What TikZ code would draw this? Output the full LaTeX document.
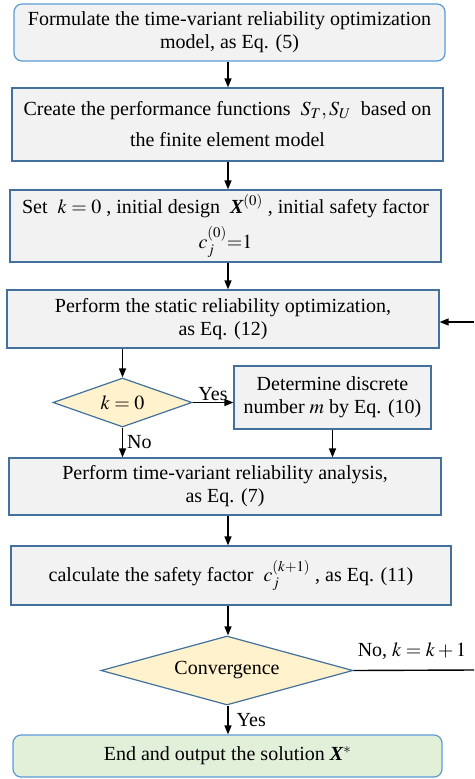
\documentclass[tikz,border=0pt]{standalone}
\usepackage{amsmath}
\IfFileExists{mathptmx.sty}{\usepackage{mathptmx}}{}
\usepackage[no-math]{fontspec}
\setmainfont{Liberation Serif}
\newfontfamily\tnr{Liberation Serif}
\usetikzlibrary{shapes.geometric,arrows.meta}
\definecolor{boxfill}{HTML}{F2F2F2}
\definecolor{boxline}{HTML}{41719C}
\definecolor{softline}{HTML}{5B9BD5}
\definecolor{decfill}{HTML}{FFF2CC}
\definecolor{endfill}{HTML}{E2F0D9}
\newcommand{\bX}{{\tnr\bfseries\itshape X}}
\tikzset{
  x=1pt, y=-1pt,
  every node/.style={font=\tnr\fontsize{20}{23}\selectfont, inner sep=0pt, align=center},
  procbox/.style={draw=boxline, fill=boxfill, line width=1.2pt, rectangle},
  startbox/.style={draw=softline, fill=boxfill, line width=1.2pt, rectangle, rounded corners=8pt},
  endbox/.style={draw=softline, fill=endfill, line width=1.2pt, rectangle, rounded corners=8pt},
  decision/.style={draw=boxline, fill=decfill, line width=1.2pt, diamond, aspect=2.8},
  arr/.style={line width=1.4pt, -{Triangle[length=9pt,width=7pt]}},
  plain/.style={line width=1.4pt},
  lbl/.style={font=\tnr\fontsize{20}{23}\selectfont}
}
\begin{document}
\begin{tikzpicture}
\useasboundingbox (0,0) rectangle (474,779);
\coordinate (ax) at (228,0);

\node[startbox, minimum width=431pt, minimum height=57pt] (b1) at (229.5,32.5)
  {Formulate the time-variant reliability optimization\\model, as Eq. (5)};
\node[procbox, minimum width=431pt, minimum height=73pt] (b2) at (227.5,124.5)
  {Create the performance functions \ $S_T, S_U$ \ based on\\[8pt]the finite element model};
\node[procbox, minimum width=431pt, minimum height=72pt] (b3) at (225.5,226)
  {Set \ $k=0$ , initial design \ \bX$^{(0)}$ , initial safety factor\\[8pt]$c_j^{(0)}{=}1$};
\node[procbox, minimum width=432pt, minimum height=58pt] (b4) at (223,319)
  {Perform the static reliability optimization,\\as Eq. (12)};
\node[decision, minimum width=139pt, minimum height=49pt] (d1) at (122.5,402.5) {$k=0$};
\node[procbox, minimum width=197pt, minimum height=63pt] (b5) at (332.5,397.5)
  {Determine discrete\\number $m$ by Eq. (10)};
\node[procbox, minimum width=432pt, minimum height=57pt] (b6) at (225,486.5)
  {Perform time-variant reliability analysis,\\as Eq. (7)};
\node[procbox, minimum width=440pt, minimum height=59pt] (b7) at (231,575.5)
  {calculate the safety factor \ $c_j^{(k+1)}$ , as Eq. (11)};
\node[decision, minimum width=252pt, minimum height=69pt] (d2) at (227,670.5) {Convergence};
\node[endbox, minimum width=429pt, minimum height=42pt] (b8) at (227.5,756)
  {End and output the solution \bX$^{*}$};

\coordinate (fbout) at (474,670);
\coordinate (fbin) at (474,322);

\draw[arr] (b1.south -| ax) -- (b2.north -| ax);
\draw[arr] (b2.south -| ax) -- (b3.north -| ax);
\draw[arr] (b3.south -| ax) -- (b4.north -| ax);
\draw[arr] (b4.south -| d1) -- (d1.north);
\draw[arr] (d1.east) -- (b5.west |- d1.east) node[lbl, midway, above=1pt] {Yes};
\draw[arr] (d1.south) -- (b6.north -| d1) node[lbl, midway, right=4pt] {No};
\draw[arr] (b5.south) -- (b6.north -| b5);
\draw[arr] (b6.south -| ax) -- (b7.north -| ax);
\draw[arr] (b7.south -| ax) -- (d2.north -| ax);
\draw[arr] (d2.south -| ax) -- (b8.north -| ax) node[lbl, midway, right=8pt] {Yes};
\draw[plain] (d2.east) -- (fbout);
\node[lbl, anchor=south] (nolbl) at (412,660) {No, $k=k+1$};
\draw[arr] (fbin) -- (b4.east |- fbin);
\end{tikzpicture}
\end{document}
